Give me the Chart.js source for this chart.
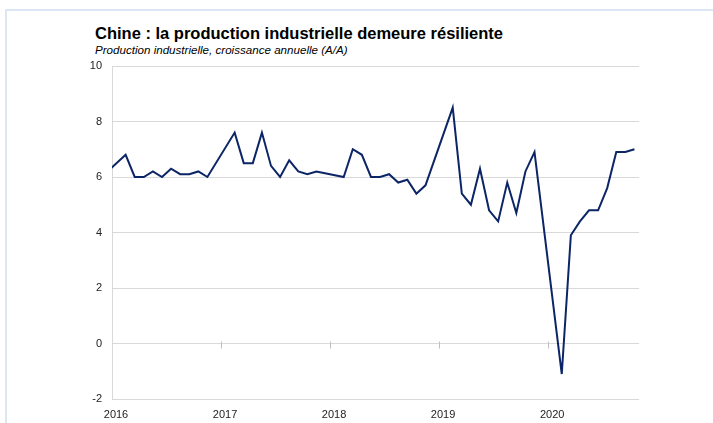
<!DOCTYPE html>
<html>
<head>
<meta charset="utf-8">
<script src="https://cdn.jsdelivr.net/npm/chart.js@4"></script>
<style>
  html, body { margin: 0; padding: 0; background: #fff; }
  #wrap { position: relative; width: 713px; height: 423px; overflow: hidden; }
  #frame { position: absolute; left: 5px; top: 9px; width: 720px; height: 430px;
           border-left: 2px solid #dbe7f5; border-top: 2px solid #dbe7f5; }
  #title { position: absolute; left: 95px; top: 24px; font: bold 16.5px "Liberation Sans", Arial, sans-serif; color: #000; white-space: nowrap; }
  #subtitle { position: absolute; left: 95px; top: 43px; font: italic 11.6px "Liberation Sans", Arial, sans-serif; color: #000; white-space: nowrap; }
  canvas { position: absolute; left: 0; top: 0; }
</style>
</head>
<body>
<div id="wrap">
  <div id="frame"></div>
  <div id="title">Chine : la production industrielle demeure résiliente</div>
  <div id="subtitle">Production industrielle, croissance annuelle (A/A)</div>
  <canvas id="c" width="713" height="423"></canvas>
</div>
<script>
// monthly data, Jan/Feb not published separately (gaps joined)
const months = [
  '2015-12',
  '2016-01', '2016-02', '2016-03', '2016-04', '2016-05', '2016-06', '2016-07', '2016-08', '2016-09', '2016-10', '2016-11', '2016-12',
  '2017-01', '2017-02', '2017-03', '2017-04', '2017-05', '2017-06', '2017-07', '2017-08', '2017-09', '2017-10', '2017-11', '2017-12',
  '2018-01', '2018-02', '2018-03', '2018-04', '2018-05', '2018-06', '2018-07', '2018-08', '2018-09', '2018-10', '2018-11', '2018-12',
  '2019-01', '2019-02', '2019-03', '2019-04', '2019-05', '2019-06', '2019-07', '2019-08', '2019-09', '2019-10', '2019-11', '2019-12',
  '2020-01', '2020-02', '2020-03', '2020-04', '2020-05', '2020-06', '2020-07', '2020-08', '2020-09', '2020-10', '2020-11'
];
const production = [
  5.9,
  null, null, 6.8, 6.0, 6.0, 6.2, 6.0, 6.3, 6.1, 6.1, 6.2, 6.0,
  null, null, 7.6, 6.5, 6.5, 7.6, 6.4, 6.0, 6.6, 6.2, 6.1, 6.2,
  null, null, 6.0, 7.0, 6.8, 6.0, 6.0, 6.1, 5.8, 5.9, 5.4, 5.7,
  null, null, 8.5, 5.4, 5.0, 6.3, 4.8, 4.4, 5.8, 4.7, 6.2, 6.9,
  null, null, -1.1, 3.9, 4.4, 4.8, 4.8, 5.6, 6.9, 6.9, 7.0
];
const yearLabels = ['2016', '2017', '2018', '2019', '2020'];
const yTicks = [-2, 0, 2, 4, 6, 8, 10];

// month position on the axis: axis starts at Feb 2016, points sit mid-month
function monthPos(s) {
  const [y, m] = s.split('-').map(Number);
  return (y - 2016) * 12 + (m - 2) + 0.5;
}
// missing months are left out so the line joins the published ones
const points = months
  .map((m, i) => ({ x: monthPos(m), y: production[i] }))
  .filter(p => p.y !== null);

const FONT = '"Liberation Sans", Arial, sans-serif';

// small tick marks on the zero line
const zeroTicks = {
  id: 'zeroTicks',
  beforeDatasetsDraw(chart) {
    const { ctx, scales: { x, y } } = chart;
    const y0 = Math.round(y.getPixelForValue(0)) + 0.5;
    ctx.save();
    ctx.strokeStyle = '#bfbfbf';
    ctx.lineWidth = 1;
    yearLabels.forEach((_, i) => {
      if (i === 0) return;
      const px = Math.round(x.getPixelForValue(i * 12)) + 0.5;
      ctx.beginPath();
      ctx.moveTo(px, y0 - 3);
      ctx.lineTo(px, y0 + 4);
      ctx.stroke();
    });
    ctx.restore();
  }
};

new Chart(document.getElementById('c'), {
  type: 'line',
  data: {
    datasets: [{
      data: points,
      borderColor: '#0b2566',
      borderWidth: 2,
      pointRadius: 0,
      tension: 0,
      fill: false
    }]
  },
  options: {
    responsive: false,
    animation: false,
    layout: { padding: { top: 66, right: 74, bottom: 0, left: 0 } },
    plugins: { legend: { display: false }, tooltip: { enabled: false } },
    scales: {
      x: {
        type: 'linear',
        min: 0,
        max: 58,
        afterBuildTicks: s => { s.ticks = yearLabels.map((_, i) => ({ value: i * 12 })); },
        afterFit: s => { s.height = 24; },
        grid: { display: false },
        border: { display: false },
        ticks: {
          color: '#222',
          font: { family: FONT, size: 11 },
          padding: 1,
          maxRotation: 0,
          autoSkip: false,
          labelOffset: 4,
          callback: v => yearLabels[v / 12]
        }
      },
      y: {
        min: -2,
        max: 10,
        afterBuildTicks: s => { s.ticks = yTicks.map(v => ({ value: v })); },
        afterFit: s => { s.width = 112; },
        grid: { color: '#d9d9d9', drawTicks: false, lineWidth: 1 },
        border: { display: true, color: '#d9d9d9', width: 1 },
        ticks: {
          color: '#222',
          font: { family: FONT, size: 11 },
          padding: 10
        }
      }
    }
  },
  plugins: [zeroTicks]
});
</script>
</body>
</html>
